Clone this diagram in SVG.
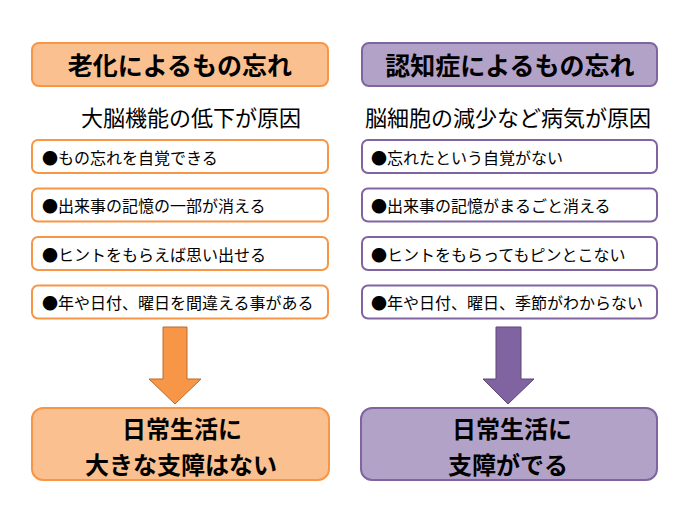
<svg xmlns="http://www.w3.org/2000/svg" width="690" height="518" viewBox="0 0 690 518">
<style>
text{font-family:"Noto Sans CJK JP","Noto Sans CJK SC",sans-serif;fill:#000}
.t{font-size:25px;font-weight:bold;text-anchor:middle;dominant-baseline:central}
.b{font-size:24px;font-weight:bold;text-anchor:middle;dominant-baseline:central}
.s{font-size:22px;text-anchor:middle;dominant-baseline:central}
.i{font-size:16px;dominant-baseline:central}
.o{fill:#FAC090;stroke:#F79646;stroke-width:2}
.p{fill:#B3A2C7;stroke:#8064A2;stroke-width:2}
.oi{fill:#fff;stroke:#F79646;stroke-width:2}
.pi{fill:#fff;stroke:#8064A2;stroke-width:2}
</style>
<rect width="690" height="518" fill="#fff"/>
<g id="left-title"><rect class="o" x="32" y="43" width="296" height="43" rx="7"/><text class="t" x="180" y="64">老化によるもの忘れ</text></g>
<g id="right-title"><rect class="p" x="362" y="43" width="295" height="43" rx="7"/><text class="t" x="510" y="64">認知症によるもの忘れ</text></g>
<g id="left-cause"><text class="s" x="191" y="116">大脳機能の低下が原因</text></g>
<g id="right-cause"><text class="s" x="508" y="116">脳細胞の減少など病気が原因</text></g>
<g id="left-item1"><rect class="oi" x="32" y="140" width="296" height="33" rx="6"/><text class="i" x="42" y="156.5">●もの忘れを自覚できる</text></g>
<g id="left-item2"><rect class="oi" x="32" y="188.5" width="296" height="33" rx="6"/><text class="i" x="42" y="205">●出来事の記憶の一部が消える</text></g>
<g id="left-item3"><rect class="oi" x="32" y="237" width="296" height="33" rx="6"/><text class="i" x="42" y="253.5">●ヒントをもらえば思い出せる</text></g>
<g id="left-item4"><rect class="oi" x="32" y="285.5" width="296" height="33" rx="6"/><text class="i" x="42" y="302">●年や日付、曜日を間違える事がある</text></g>
<g id="right-item1"><rect class="pi" x="362" y="140" width="295" height="33" rx="6"/><text class="i" x="371" y="156.5">●忘れたという自覚がない</text></g>
<g id="right-item2"><rect class="pi" x="362" y="188.5" width="295" height="33" rx="6"/><text class="i" x="371" y="205">●出来事の記憶がまるごと消える</text></g>
<g id="right-item3"><rect class="pi" x="362" y="237" width="295" height="33" rx="6"/><text class="i" x="371" y="253.5">●ヒントをもらってもピンとこない</text></g>
<g id="right-item4"><rect class="pi" x="362" y="285.5" width="295" height="33" rx="6"/><text class="i" x="371" y="302">●年や日付、曜日、季節がわからない</text></g>
<g id="connectors">
<polygon points="163,327 187,327 187,379 201,379 175,404 149,379 163,379" fill="#F79646" stroke="#B66D31" stroke-width="1"/>
<polygon points="496,327 521,327 521,379 534,379 508,404 483,379 496,379" fill="#8064A2" stroke="#5C4776" stroke-width="1"/>
</g>
<g id="left-result"><rect class="o" x="32" y="408" width="297" height="72" rx="11"/><text class="b" x="182" y="427">日常生活に</text><text class="b" x="181" y="463">大きな支障はない</text></g>
<g id="right-result"><rect class="p" x="361" y="408" width="296" height="72" rx="11"/><text class="b" x="512" y="427">日常生活に</text><text class="b" x="508" y="463">支障がでる</text></g>
</svg>
